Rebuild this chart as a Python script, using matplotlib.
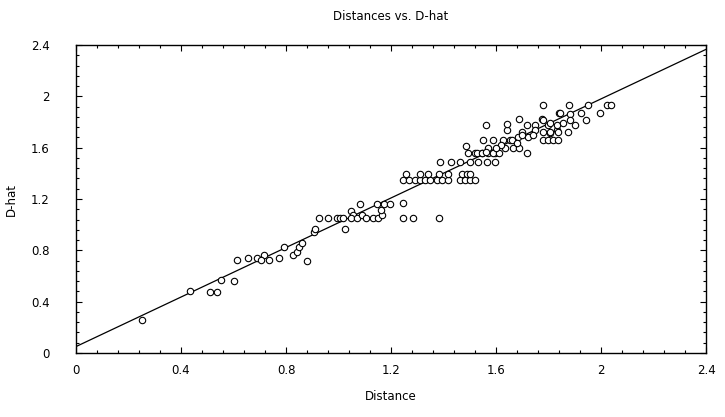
import matplotlib
matplotlib.use("Agg")
import matplotlib.pyplot as plt
from matplotlib.ticker import MultipleLocator

title = "Distances vs. D-hat"
x_label = "Distance"
y_label = "D-hat"
ticks = [0, 0.4, 0.8, 1.2, 1.6, 2.0, 2.4]
tick_labels = ["0", "0.4", "0.8", "1.2", "1.6", "2", "2.4"]

# fitted line: intercept, slope
fit_intercept = 0.05
fit_slope = 0.965

distance = [
    0.25, 0.435, 0.51, 0.538, 0.553, 0.600,
    0.613, 0.655, 0.690, 0.716, 0.705, 0.734, 0.775,
    0.792, 0.828, 0.841, 0.851, 0.861, 0.879,
    0.905, 0.91, 0.927, 0.961, 0.993, 1.006, 1.018, 1.026,
    1.046, 1.057, 1.046, 1.082, 1.072, 1.09, 1.105,
    1.133, 1.152, 1.164, 1.161, 1.145, 1.173, 1.196,
    1.247, 1.245, 1.285, 1.383,
    1.247, 1.27, 1.291, 1.31, 1.33, 1.349, 1.374, 1.393, 1.418, 1.463, 1.482, 1.501, 1.52,
    1.257, 1.31, 1.342, 1.384, 1.418, 1.469, 1.488, 1.501,
    1.387, 1.427, 1.463, 1.501, 1.533, 1.565, 1.596,
    1.494, 1.52, 1.545, 1.571, 1.596,
    1.486, 1.526, 1.547, 1.571, 1.59, 1.613, 1.634, 1.663, 1.689, 1.717,
    1.549, 1.59, 1.625, 1.653, 1.685, 1.698, 1.72, 1.778, 1.799, 1.818,
    1.641, 1.806, 1.831,
    1.562, 1.641, 1.689, 1.717, 1.749, 1.774, 1.799,
    1.778, 1.841, 1.879, 1.952, 2.021, 2.037, 1.996,
    1.844, 1.882, 1.923, 1.943, 1.778,
    1.806, 1.831, 1.857, 1.882, 1.901,
    1.78, 1.806, 1.837, 1.876,
    1.837,
    1.56, 1.62, 1.66, 1.70, 1.75, 1.74, 1.68, 1.60,
]

d_hat = [
    0.26, 0.485, 0.475, 0.475, 0.569, 0.562,
    0.722, 0.737, 0.737, 0.762, 0.722, 0.722, 0.737,
    0.824, 0.764, 0.79, 0.829, 0.86, 0.719,
    0.94, 0.964, 1.05, 1.05, 1.05, 1.05, 1.05, 0.964,
    1.109, 1.076, 1.05, 1.163, 1.05, 1.076, 1.05,
    1.05, 1.05, 1.076, 1.115, 1.163, 1.163, 1.163,
    1.166, 1.05, 1.05, 1.05,
    1.348, 1.348, 1.348, 1.348, 1.348, 1.348, 1.348, 1.348, 1.348, 1.348, 1.348, 1.348, 1.348,
    1.395, 1.395, 1.395, 1.395, 1.395, 1.395, 1.395, 1.395,
    1.489, 1.489, 1.489, 1.489, 1.489, 1.489, 1.489,
    1.556, 1.556, 1.556, 1.556, 1.556,
    1.613, 1.561, 1.561, 1.595, 1.561, 1.561, 1.595, 1.595, 1.595, 1.561,
    1.66, 1.66, 1.66, 1.66, 1.686, 1.725, 1.686, 1.66, 1.66, 1.66,
    1.738, 1.712, 1.738,
    1.777, 1.785, 1.821, 1.777, 1.777, 1.821, 1.777,
    1.933, 1.873, 1.933, 1.933, 1.933, 1.933, 1.873,
    1.873, 1.863, 1.873, 1.816, 1.816,
    1.79, 1.777, 1.79, 1.816, 1.777,
    1.725, 1.725, 1.725, 1.725,
    1.66,
    1.57, 1.62, 1.66, 1.70, 1.74, 1.70, 1.64, 1.60,
]

fig = plt.figure(figsize=(7.25, 4.17), dpi=100)
ax = fig.add_axes([76 / 725, 1 - 353 / 417, (706 - 76) / 725, (353 - 45) / 417])

ax.plot([0, 2.4], [fit_intercept, fit_intercept + fit_slope * 2.4],
        color="black", lw=0.9, zorder=2)
ax.plot(distance, d_hat, linestyle="none", marker="o", markersize=4.6,
        markerfacecolor="white", markeredgecolor="black", markeredgewidth=0.8,
        zorder=3)

ax.set_xlim(0, 2.4)
ax.set_ylim(0, 2.4)
ax.set_xticks(ticks)
ax.set_xticklabels(tick_labels)
ax.set_yticks(ticks)
ax.set_yticklabels(tick_labels)
ax.xaxis.set_minor_locator(MultipleLocator(0.08))
ax.yaxis.set_minor_locator(MultipleLocator(0.08))
ax.tick_params(which="both", direction="in", top=True, right=True,
               width=0.8, labelsize=8.5)
ax.tick_params(which="major", length=4)
ax.tick_params(which="minor", length=2.5)
ax.tick_params(axis="x", which="major", pad=8)
ax.tick_params(axis="y", which="major", pad=19)
for s in ax.spines.values():
    s.set_linewidth(1.0)

ax.set_title(title, fontsize=8.5, pad=18)
ax.set_xlabel(x_label, fontsize=8.5, labelpad=9)
ax.set_ylabel(y_label, fontsize=8.5, labelpad=9)

fig.savefig("out.png", dpi=100)
